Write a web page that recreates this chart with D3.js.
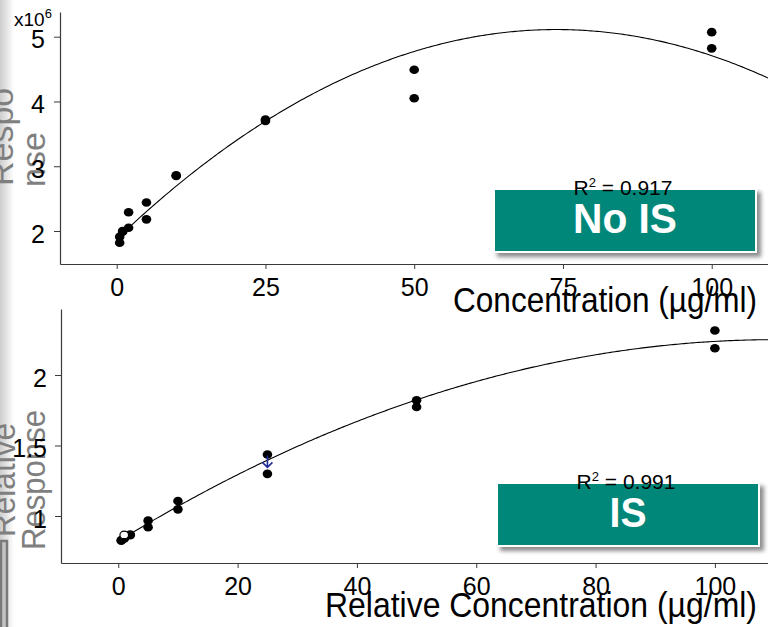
<!DOCTYPE html>
<html>
<head>
<meta charset="utf-8">
<script src="https://cdn.jsdelivr.net/npm/d3@7"></script>
<style>
  html, body { margin: 0; padding: 0; background: #fff; }
  svg { display: block; font-family: "Liberation Sans", Arial, sans-serif; }
</style>
</head>
<body>
<svg id="chart" width="768" height="627"></svg>
<script>
// Calibration standards: nominal concentrations (µg/ml), duplicate injections
const concentrations = [0.5, 0.5, 1, 1, 2, 2, 5, 5, 10, 10, 25, 25, 50, 50, 100, 100];

// Raw detector response without internal standard
const responseNoIS = [1.82e6, 1.91e6, 2.00e6, 1.99e6, 2.05e6, 2.29e6, 2.44e6, 2.18e6,
                      2.86e6, 2.85e6, 3.72e6, 3.70e6, 4.49e6, 4.05e6, 5.07e6, 4.82e6];

// Response relative to the internal standard
const relResponseIS = [0.825, 0.83, 0.842, 0.84, 0.863, 0.868, 0.967, 0.92,
                       1.106, 1.047, 1.436, 1.299, 1.82, 1.773, 2.315, 2.19];

// Flagged (excluded) standard, drawn hollow
const flaggedConc = [1];
const flaggedRel = [0.866];

// Arrow marker at the 25 µg/ml standard
const arrowConc = [25];
const arrowRel = [1.38];

// Quadratic fits y = a + b·x + c·x²
const fitNoIS = [1.877e6, 0.0875e6, -592];
const fitIS = [0.8213, 0.02593, -0.0001176];
const r2Labels = ["0.917", "0.991"];
const panelLabels = ["No IS", "IS"];

// Axis limits and ticks
const noISXDomain = [-9.53, 109.46];
const noISYDomain = [1.4907e6, 5.3812e6];
const noISXTicks = [0, 25, 50, 75, 100];
const noISYTicks = [2e6, 3e6, 4e6, 5e6];
const isXDomain = [-9.6, 108.9];
const isYDomain = [0.6667, 2.468];
const isXTicks = [0, 20, 40, 60, 80, 100];
const isYTicks = [1, 1.5, 2];

const svg = d3.select("#chart");
const W = 768, H = 627;
const AXIS = "#3a3a3a";
const TEAL = "#00877a";
const GREY_TXT = "#7f7f7f";

// soft slide edge on the left
const defs = svg.append("defs");
const grad = defs.append("linearGradient").attr("id", "edge").attr("x1", 0).attr("x2", 1);
grad.append("stop").attr("offset", "0%").attr("stop-color", "#cdcdcd");
grad.append("stop").attr("offset", "100%").attr("stop-color", "#ffffff");
const shadow = defs.append("filter").attr("id", "shadow")
  .attr("x", "-10%").attr("y", "-20%").attr("width", "130%").attr("height", "150%");
shadow.append("feDropShadow").attr("dx", 4).attr("dy", 4).attr("stdDeviation", 2.2)
  .attr("flood-color", "#000").attr("flood-opacity", 0.45);

svg.append("rect").attr("x", 0).attr("y", 0).attr("width", 14).attr("height", H).attr("fill", "url(#edge)");
svg.append("rect").attr("x", 1).attr("y", 541).attr("width", 6).attr("height", 90)
  .attr("fill", "#c4c4c4").attr("stroke", "#7a7a7a").attr("stroke-width", 2.5);

const poly = (c, x) => c[0] + c[1] * x + c[2] * x * x;

function panel(opts) {
  const g = svg.append("g");
  const x = d3.scaleLinear().domain(opts.xDomain).range(opts.xRange);
  const y = d3.scaleLinear().domain(opts.yDomain).range(opts.yRange);

  // y-axis titles (two-line, rotated)
  opts.yTitle.forEach(t => {
    g.append("text")
      .attr("transform", `translate(${t.x},${t.y}) rotate(-90)`)
      .attr("text-anchor", t.anchor)
      .attr("font-size", t.size)
      .attr("fill", GREY_TXT)
      .attr("textLength", t.len || null)
      .attr("lengthAdjust", "spacingAndGlyphs")
      .text(t.text);
  });

  const xAxis = d3.axisBottom(x).tickValues(opts.xTicks).tickSize(5).tickSizeOuter(0)
    .tickPadding(8).tickFormat(d3.format("d"));
  const yAxis = d3.axisLeft(y).tickValues(opts.yTicks).tickSize(6).tickSizeOuter(0)
    .tickPadding(opts.yPad).tickFormat(opts.yFormat);

  const gx = g.append("g").attr("transform", `translate(0,${opts.yRange[0]})`).call(xAxis);
  const gy = g.append("g").attr("transform", `translate(${opts.xRange[0]},0)`).call(yAxis);
  [gx, gy].forEach(a => {
    a.select(".domain").attr("stroke", AXIS).attr("stroke-width", 1.2);
    a.selectAll(".tick line").attr("stroke", AXIS).attr("stroke-width", 1);
    a.selectAll(".tick text").attr("fill", "#000").attr("font-size", 25)
      .attr("font-family", "'Liberation Sans', Arial, sans-serif");
  });
  gx.selectAll(".tick text").attr("dy", "0.71em").attr("y", 14);
  gy.selectAll(".tick text").attr("dy", "0.45em");

  // fitted calibration curve
  const xs = d3.range(0, 301).map(i => 0.5 + (opts.xDomain[1] - 0.5) * i / 300);
  g.append("path")
    .datum(xs)
    .attr("fill", "none").attr("stroke", "#000").attr("stroke-width", 1.1)
    .attr("d", d3.line().x(d => x(d)).y(d => y(poly(opts.fit, d))));

  // standards
  g.selectAll("ellipse.pt").data(concentrations.map((c, i) => [c, opts.values[i]]))
    .join("ellipse").attr("class", "pt")
    .attr("cx", d => x(d[0])).attr("cy", d => y(d[1]))
    .attr("rx", 4.8).attr("ry", 4.3).attr("fill", "#000");

  if (opts.flagged) {
    g.selectAll("ellipse.flag").data(opts.flagged[0].map((c, i) => [c, opts.flagged[1][i]]))
      .join("ellipse").attr("class", "flag")
      .attr("cx", d => x(d[0])).attr("cy", d => y(d[1]))
      .attr("rx", 4.3).attr("ry", 3.8).attr("fill", "#fff").attr("stroke", "#000").attr("stroke-width", 1.2);
  }
  if (opts.arrow) {
    opts.arrow[0].forEach((c, i) => {
      const ax = x(c), ay = y(opts.arrow[1][i]);
      g.append("path")
        .attr("d", `M${ax},${ay - 7}V${ay + 5}M${ax - 5},${ay}L${ax},${ay + 5}L${ax + 5},${ay}`)
        .attr("fill", "none").attr("stroke", "#1f2a9c").attr("stroke-width", 1.6);
    });
  }

  // x-axis title
  g.append("text")
    .attr("x", opts.xTitle.x).attr("y", opts.xTitle.y)
    .attr("text-anchor", "end").attr("font-size", 35).attr("fill", "#000")
    .attr("textLength", opts.xTitle.len).attr("lengthAdjust", "spacingAndGlyphs")
    .text(opts.xTitle.text);

  // label badge
  const b = opts.badge;
  g.append("rect").attr("x", b.x).attr("y", b.y).attr("width", b.w).attr("height", b.h)
    .attr("fill", TEAL).attr("stroke", "#fff").attr("stroke-width", 2).attr("filter", "url(#shadow)");
  g.append("text").attr("x", b.x + b.w / 2).attr("y", b.y + 44)
    .attr("text-anchor", "middle").attr("font-size", 43).attr("font-weight", "bold").attr("fill", "#fff")
    .attr("textLength", b.tl).attr("lengthAdjust", "spacingAndGlyphs")
    .text(b.text);

  const r2 = g.append("text").attr("x", b.x + b.w / 2 - 2).attr("y", b.y + 6)
    .attr("text-anchor", "middle").attr("font-size", 21).attr("fill", "#000");
  r2.append("tspan").text("R");
  r2.append("tspan").attr("font-size", 13).attr("dy", -8).text("2");
  r2.append("tspan").attr("dy", 8).text(" = " + b.r2);
  return { x, y };
}

// Without internal standard (absolute response, ×10^6)
panel({
  xDomain: noISXDomain, xRange: [60, 768],
  yDomain: noISYDomain, yRange: [264, 12],
  xTicks: noISXTicks, yTicks: noISYTicks,
  yFormat: d => d3.format("d")(d / 1e6), yPad: 9,
  values: responseNoIS, fit: fitNoIS,
  yTitle: [
    { text: "Respo", x: 13, y: 186, anchor: "start", size: 34 },
    { text: "nse", x: 45, y: 187, anchor: "start", size: 34 }
  ],
  xTitle: { text: "Concentration (µg/ml)", x: 757, y: 312, len: 304 },
  badge: { x: 494, y: 189, w: 262, h: 63, text: panelLabels[0], tl: 104, r2: r2Labels[0] }
});

// exponent note on the y axis
const exp = svg.append("text").attr("x", 14).attr("y", 26).attr("font-size", 19).attr("fill", "#000");
exp.append("tspan").text("x10");
exp.append("tspan").attr("font-size", 13).attr("dy", -8).text("6");

// With internal standard (relative response)
panel({
  xDomain: isXDomain, xRange: [61, 768],
  yDomain: isYDomain, yRange: [563, 309],
  xTicks: isXTicks, yTicks: isYTicks,
  yFormat: d => String(d), yPad: 8,
  values: relResponseIS, fit: fitIS,
  flagged: [flaggedConc, flaggedRel],
  arrow: [arrowConc, arrowRel],
  yTitle: [
    { text: "Relative", x: 15, y: 480, anchor: "middle", size: 33, len: 114 },
    { text: "Response", x: 45, y: 480, anchor: "middle", size: 33, len: 140 }
  ],
  xTitle: { text: "Relative Concentration (µg/ml)", x: 757, y: 617, len: 432 },
  badge: { x: 497, y: 483, w: 262, h: 63, text: panelLabels[1], tl: 37, r2: r2Labels[1] }
});
</script>
</body>
</html>
